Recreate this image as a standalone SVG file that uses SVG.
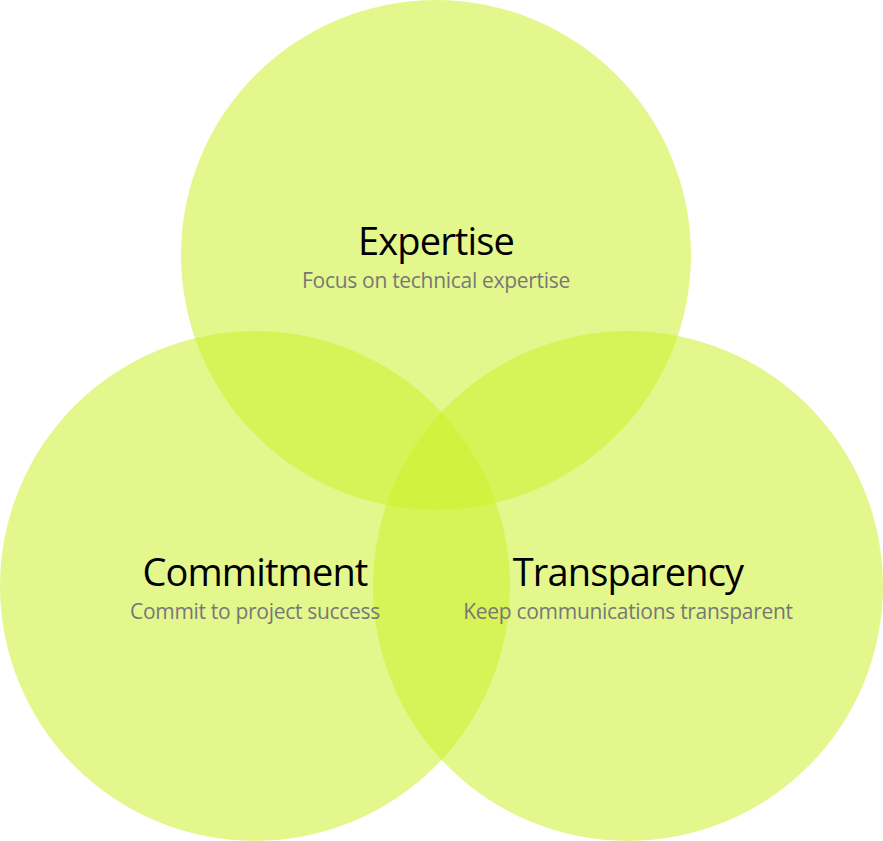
<svg xmlns="http://www.w3.org/2000/svg" width="883" height="841" viewBox="0 0 883 841">
<style>
.c{fill:rgb(206,240,46);fill-opacity:0.55}
.t{font-family:"Open Sans",sans-serif;font-size:38px;fill:#000;text-anchor:middle;letter-spacing:-0.85px}
.s{font-family:"Open Sans",sans-serif;font-size:21px;fill:#777;text-anchor:middle;letter-spacing:-0.3px}
</style>
<rect width="883" height="841" fill="#fff"/>
<g id="expertise"><circle class="c" cx="436" cy="255" r="255"/></g>
<g id="commitment"><circle class="c" cx="255" cy="586" r="255"/></g>
<g id="transparency"><circle class="c" cx="628" cy="586" r="255"/></g>
<g id="labels">
<text class="t" x="436" y="255">Expertise</text>
<text class="s" x="436" y="288">Focus on technical expertise</text>
<text class="t" x="255" y="586">Commitment</text>
<text class="s" x="255" y="619">Commit to project success</text>
<text class="t" x="628" y="586">Transparency</text>
<text class="s" x="628" y="619">Keep communications transparent</text>
</g>
</svg>
